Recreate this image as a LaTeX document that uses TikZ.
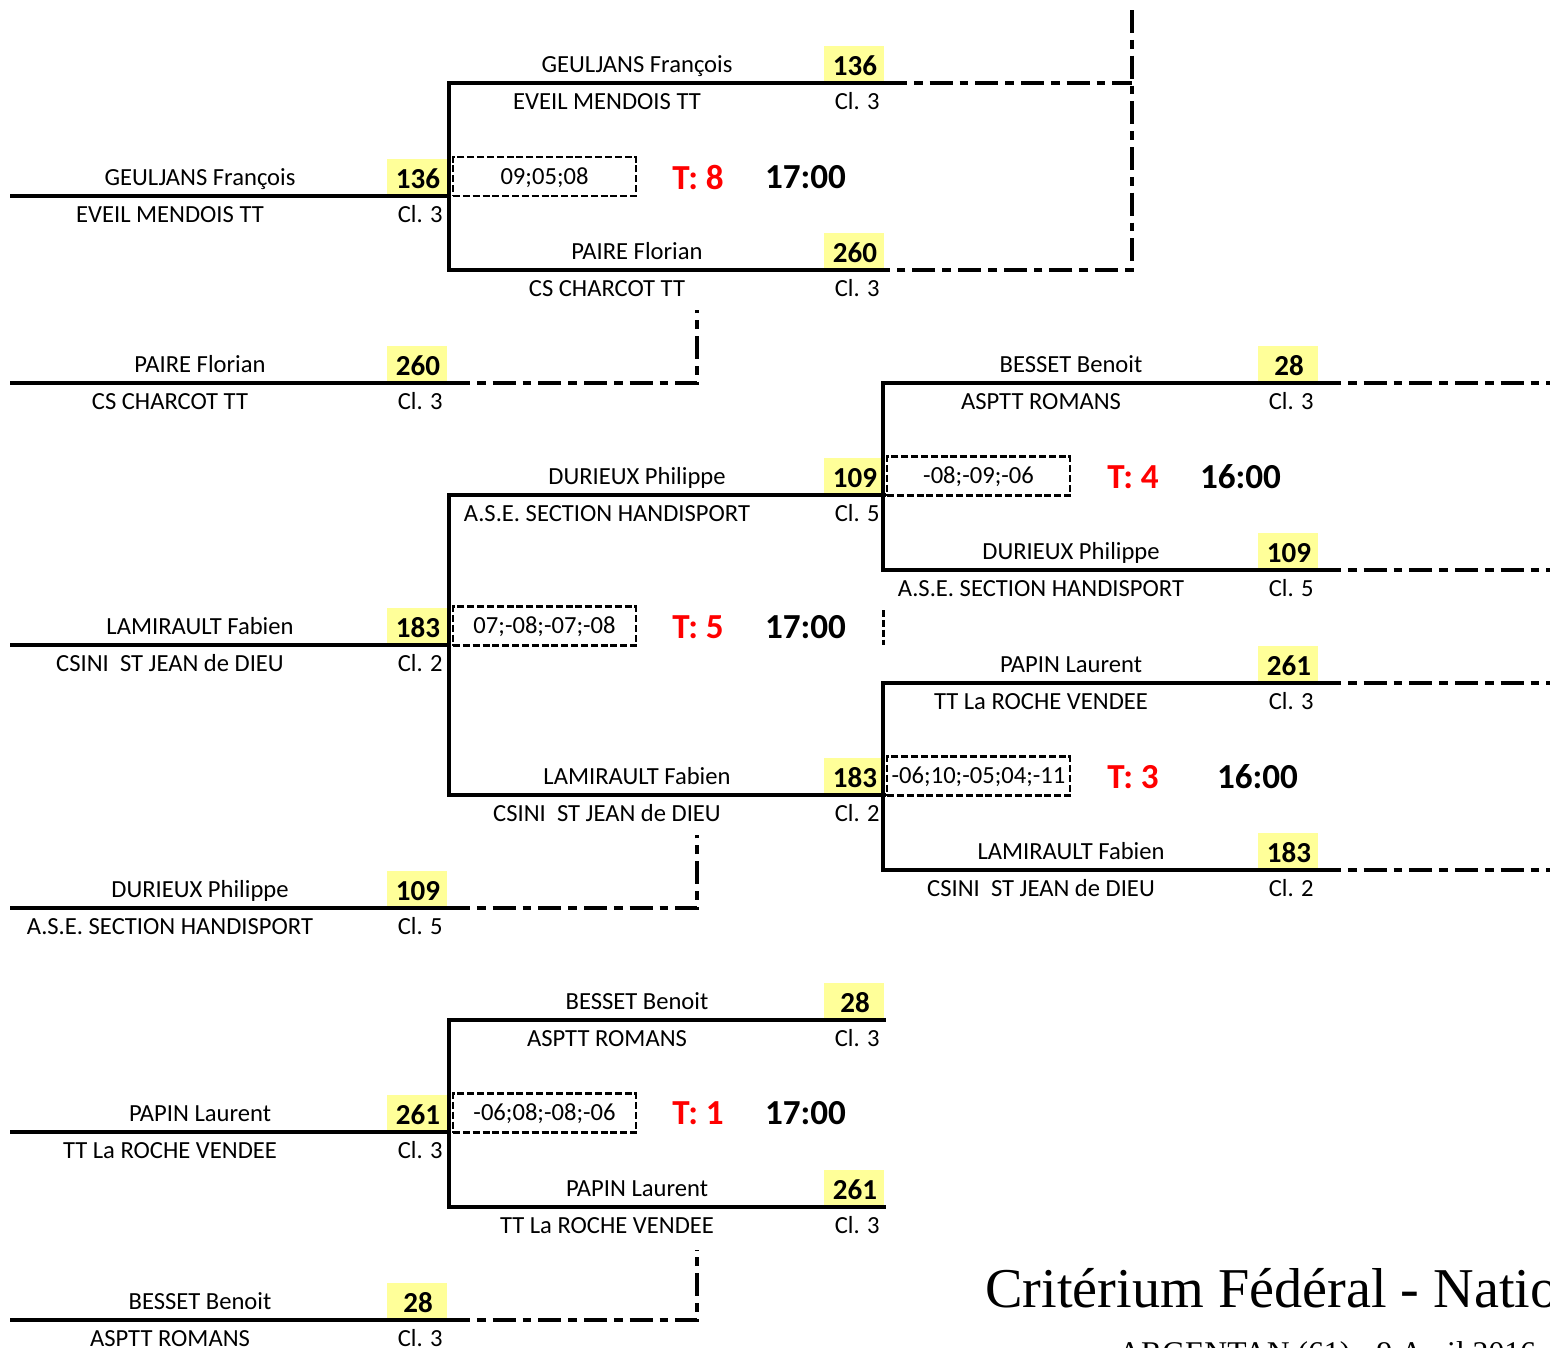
\documentclass[tikz,border=0pt]{standalone}
\usepackage{fontspec}
\setmainfont{Carlito}
\newfontfamily\titlefont{Liberation Serif}
\usepackage{xcolor}
\usepackage{tikz}
\usetikzlibrary{calc}
\definecolor{numfill}{HTML}{FFFF99}
\definecolor{tablered}{HTML}{FF0000}
\tikzset{
  solidline/.style={line width=2.3pt, draw=black, line cap=rect},
  dashdot/.style={line width=1.8pt, draw=black, dash pattern=on 13pt off 4pt on 5pt off 4pt},
  shortdash/.style={line width=1.7pt, draw=black, dash pattern=on 4pt off 1.6pt},
  scorebox/.style={draw=black, line width=1.2pt, dash pattern=on 4pt off 1.6pt,
    minimum width=3.66cm, minimum height=0.78cm, inner sep=0pt,
    text height=1em, text depth=0.1em, font=\fontsize{14}{14}\selectfont},
  numbox/.style={fill=numfill, minimum width=1.2cm, minimum height=0.74cm, anchor=south east, inner sep=0pt},
  numtxt/.style={font=\bfseries\fontsize{16.5}{16.5}\selectfont, anchor=base, inner sep=0pt},
  nametxt/.style={font=\fontsize{14}{14}\selectfont, anchor=base, inner sep=0pt},
  cltxt/.style={font=\fontsize{14}{14}\selectfont, anchor=base east, inner sep=0pt},
  tabletxt/.style={text=tablered, font=\bfseries\fontsize{20}{20}\selectfont, inner sep=0pt},
  timetxt/.style={font=\bfseries\fontsize{20}{20}\selectfont, inner sep=0pt},
  titletxt/.style={font=\titlefont\fontsize{32}{32}\selectfont, anchor=base west, inner sep=0pt},
  placetxt/.style={font=\titlefont\fontsize{18}{18}\selectfont, anchor=base west, inner sep=0pt}
}
% one player line: prefix, x start, y, name, club, number, class
\newcommand{\playerslot}[7]{%
  \coordinate (#1-l) at (#2,#3);
  \coordinate (#1-r) at ({#2+435},#3);
  \node[numbox] (#1-box) at (#1-r) {};
  \node[numtxt] (#1-num) at ({#2+406},{#3-8}) {#6};
  \node[nametxt] (#1-name) at ({#2+188},{#3-11}) {#4};
  \node[nametxt] (#1-club) at ({#2+158},{#3+26}) {#5};
  \node[cltxt] (#1-cl) at ({#2+431},{#3+26}) {Cl. #7};
  \draw[solidline] (#1-l) -- (#1-r);
}

\begin{document}
\begin{tikzpicture}[x=0.02cm, y=-0.02cm]
  \useasboundingbox (0,0) rectangle (1550,1347);
  \clip (0,0) rectangle (1550,1347);

  \playerslot{r1a}{12}{196}{GEULJANS François}{EVEIL MENDOIS TT}{136}{3}
  \playerslot{r1b}{12}{383}{PAIRE Florian}{CS CHARCOT TT}{260}{3}
  \playerslot{r1c}{12}{645}{LAMIRAULT Fabien}{CSINI\ \ ST JEAN de DIEU}{183}{2}
  \playerslot{r1d}{12}{908}{DURIEUX Philippe}{A.S.E. SECTION HANDISPORT}{109}{5}
  \playerslot{r1e}{12}{1132}{PAPIN Laurent}{TT La ROCHE VENDEE}{261}{3}
  \playerslot{r1f}{12}{1320}{BESSET Benoit}{ASPTT ROMANS}{28}{3}

  \playerslot{r2a}{449}{83}{GEULJANS François}{EVEIL MENDOIS TT}{136}{3}
  \playerslot{r2b}{449}{270}{PAIRE Florian}{CS CHARCOT TT}{260}{3}
  \playerslot{r2c}{449}{495}{DURIEUX Philippe}{A.S.E. SECTION HANDISPORT}{109}{5}
  \playerslot{r2d}{449}{795}{LAMIRAULT Fabien}{CSINI\ \ ST JEAN de DIEU}{183}{2}
  \playerslot{r2e}{449}{1020}{BESSET Benoit}{ASPTT ROMANS}{28}{3}
  \playerslot{r2f}{449}{1207}{PAPIN Laurent}{TT La ROCHE VENDEE}{261}{3}

  \playerslot{r3a}{883}{383}{BESSET Benoit}{ASPTT ROMANS}{28}{3}
  \playerslot{r3b}{883}{570}{DURIEUX Philippe}{A.S.E. SECTION HANDISPORT}{109}{5}
  \playerslot{r3c}{883}{683}{PAPIN Laurent}{TT La ROCHE VENDEE}{261}{3}
  \playerslot{r3d}{883}{870}{LAMIRAULT Fabien}{CSINI\ \ ST JEAN de DIEU}{183}{2}

  \draw[solidline] (r2a-l) -- (r2b-l);
  \draw[solidline] (r2c-l) -- (r2d-l);
  \draw[solidline] (r2e-l) -- (r2f-l);
  \draw[solidline] (r3a-l) -- (r3b-l);
  \draw[solidline] (r3c-l) -- (r3d-l);

  \node[scorebox] (sc8) at (544.5,176.5) {09;05;08};
  \node[tabletxt] (t8) at (698,177) {T: 8};
  \node[timetxt] (h8) at (805.5,177) {17:00};

  \node[scorebox] (sc5) at (544.5,626) {07;-08;-07;-08};
  \node[tabletxt] (t5) at (698,627) {T: 5};
  \node[timetxt] (h5) at (805.5,627) {17:00};

  \node[scorebox] (sc1) at (544.5,1113) {-06;08;-08;-06};
  \node[tabletxt] (t1) at (698,1113) {T: 1};
  \node[timetxt] (h1) at (805.5,1113) {17:00};

  \node[scorebox] (sc4) at (978.5,476) {-08;-09;-06};
  \node[tabletxt] (t4) at (1133,477) {T: 4};
  \node[timetxt] (h4) at (1240.5,477) {16:00};

  \node[scorebox] (sc3) at (978.5,776) {-06;10;-05;04;-11};
  \node[tabletxt] (t3) at (1133,777) {T: 3};
  \node[timetxt] (h3) at (1257.5,777) {16:00};

  \coordinate (up8) at (1132,10);
  \coordinate (byeb) at (697,310);
  \coordinate (byed) at (697,835);
  \coordinate (byef) at (697,1250);
  \coordinate (edge) at (1552,0);
  \coordinate (gap1) at (883,610);
  \coordinate (gap2) at (883,645);

  \draw[dashdot] (r2a-r) -- (r2a-r -| up8);
  \draw[dashdot] (up8) |- (r2b-r);
  \draw[dashdot] (r1b-r) -| (byeb);
  \draw[dashdot] (r1d-r) -| (byed);
  \draw[dashdot] (r1f-r) -| (byef);
  \draw[dashdot] (r3a-r) -- (r3a-r -| edge);
  \draw[dashdot] (r3b-r) -- (r3b-r -| edge);
  \draw[dashdot] (r3c-r) -- (r3c-r -| edge);
  \draw[dashdot] (r3d-r) -- (r3d-r -| edge);
  \draw[shortdash] (gap1) -- (gap2);

  \node[titletxt] (title) at (985,1307) {Critérium Fédéral - National};
  \node[placetxt] (place) at (1118,1363) {ARGENTAN (61) - 9 Avril 2016};
\end{tikzpicture}
\end{document}
